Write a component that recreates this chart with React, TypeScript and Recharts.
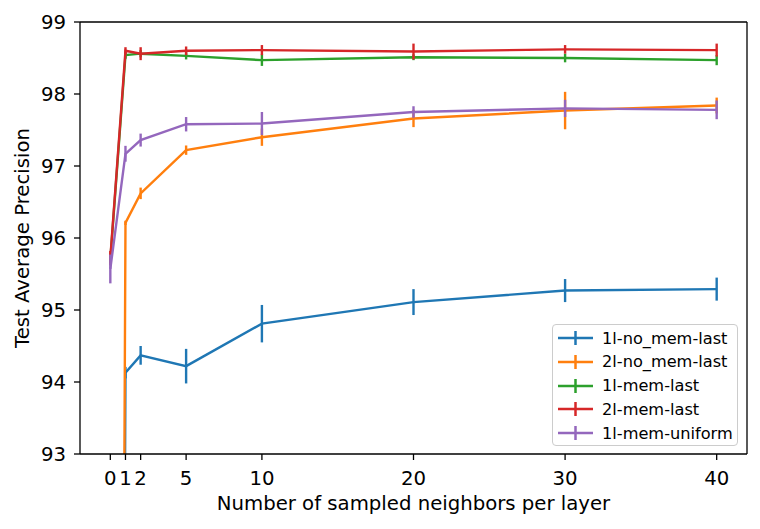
import { LineChart, Line, XAxis, YAxis, ErrorBar, ReferenceLine } from 'recharts';

const neighbors = [0, 1, 2, 5, 10, 20, 30, 40];
const xTicks = [0, 1, 2, 5, 10, 20, 30, 40];
const yTicks = [93, 94, 95, 96, 97, 98, 99];

const seriesNames = ['1l-no_mem-last', '2l-no_mem-last', '1l-mem-last', '2l-mem-last', '1l-mem-uniform'];
const seriesColors = ['#1f77b4', '#ff7f0e', '#2ca02c', '#d62728', '#9467bd'];

// mean values per number of neighbors (x=0 of the no_mem runs is far below the axis)
const noMem1l = [50, 94.13, 94.37, 94.22, 94.81, 95.11, 95.27, 95.29];
const noMem2l = [50, 96.21, 96.62, 97.22, 97.4, 97.66, 97.77, 97.84];
const mem1l = [95.7, 98.54, 98.56, 98.53, 98.47, 98.51, 98.5, 98.47];
const mem2l = [95.72, 98.6, 98.56, 98.6, 98.61, 98.59, 98.62, 98.61];
const memUniform1l = [95.57, 97.17, 97.36, 97.58, 97.59, 97.75, 97.8, 97.78];

// error bar half-heights
const noMem1lErr = [0, 0.08, 0.13, 0.24, 0.26, 0.18, 0.16, 0.16];
const noMem2lErr = [0, 0.03, 0.08, 0.065, 0.12, 0.12, 0.26, 0.11];
const mem1lErr = [0.05, 0.05, 0.05, 0.05, 0.08, 0.04, 0.06, 0.07];
const mem2lErr = [0.1, 0.05, 0.09, 0.06, 0.07, 0.11, 0.06, 0.09];
const memUniform1lErr = [0.2, 0.11, 0.09, 0.1, 0.16, 0.08, 0.12, 0.13];

const values = [noMem1l, noMem2l, mem1l, mem2l, memUniform1l];
const errors = [noMem1lErr, noMem2lErr, mem1lErr, mem2lErr, memUniform1lErr];

const data = neighbors.map((n, i) => {
  const row: Record<string, number> = { n };
  values.forEach((v, s) => {
    row[`s${s}`] = v[i];
    row[`e${s}`] = errors[s][i];
  });
  return row;
});

const font = '"DejaVu Sans", sans-serif';
const tickStyle = { fill: '#000', fontSize: 19.7, fontFamily: font };
const spine = { stroke: '#000', strokeWidth: 1.3 };

const LegendBox = () => (
  <div
    style={{
      position: 'absolute',
      left: 552,
      top: 324,
      width: 184,
      height: 120,
      border: '1px solid #cccccc',
      borderRadius: 4,
      background: 'rgba(255,255,255,0.8)',
      fontFamily: font,
      fontSize: 16.2,
      color: '#000',
    }}
  >
    {seriesNames.map((name, i) => (
      <div
        key={name}
        style={{ position: 'absolute', left: 0, top: 1 + i * 23.75, height: 24, display: 'flex', alignItems: 'center' }}
      >
        <svg width={48} height={24} style={{ display: 'block' }}>
          <line x1={5} x2={40} y1={12} y2={12} stroke={seriesColors[i]} strokeWidth={2.5} />
          <line x1={22.5} x2={22.5} y1={5} y2={19} stroke={seriesColors[i]} strokeWidth={2.5} />
        </svg>
        <span style={{ whiteSpace: 'nowrap', marginLeft: 1 }}>{name}</span>
      </div>
    ))}
  </div>
);

export default function App() {
  return (
    <div style={{ position: 'absolute', left: 0, top: 0, width: 760, height: 529, background: '#fff' }}>
      <LineChart width={760} height={529} data={data} margin={{ top: 22, right: 13, bottom: 0, left: 0 }}>
        <XAxis
          dataKey="n"
          type="number"
          domain={[-2, 42]}
          ticks={xTicks}
          interval={0}
          allowDataOverflow
          height={75}
          tickSize={6}
          tickMargin={11}
          tick={tickStyle}
          axisLine={spine}
          tickLine={spine}
          label={{
            value: 'Number of sampled neighbors per layer',
            position: 'insideBottom',
            offset: 19,
            style: { fill: '#000', fontSize: 19.7, fontFamily: font },
          }}
        />
        <YAxis
          type="number"
          domain={[93, 99]}
          ticks={yTicks}
          interval={0}
          allowDataOverflow
          width={80}
          tickSize={6}
          tickMargin={8}
          tick={tickStyle}
          axisLine={spine}
          tickLine={spine}
          label={{
            value: 'Test Average Precision',
            angle: -90,
            position: 'insideLeft',
            offset: 22,
            style: { fill: '#000', fontSize: 19.7, fontFamily: font, textAnchor: 'middle' },
          }}
        />
        <ReferenceLine y={99} stroke="#000" strokeWidth={1.3} />
        <ReferenceLine x={42} stroke="#000" strokeWidth={1.3} />
        {seriesNames.map((name, s) => (
          <Line
            key={name}
            name={name}
            dataKey={`s${s}`}
            type="linear"
            stroke={seriesColors[s]}
            strokeWidth={2.4}
            dot={false}
            activeDot={false}
            isAnimationActive={false}
          >
            <ErrorBar dataKey={`e${s}`} direction="y" width={0} stroke={seriesColors[s]} strokeWidth={2.4} />
          </Line>
        ))}
      </LineChart>
      <LegendBox />
    </div>
  );
}
